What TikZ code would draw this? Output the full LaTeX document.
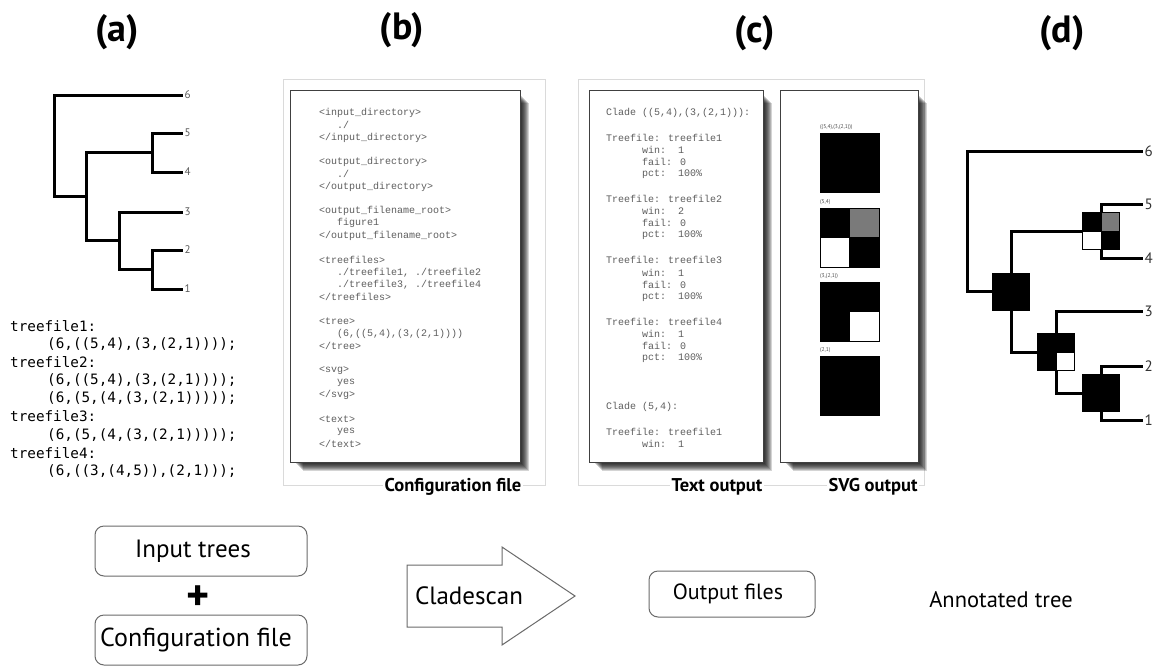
\documentclass[tikz,border=0pt]{standalone}
\usepackage{fontspec}
\setmainfont{PT Sans}
\newfontfamily\cfgfont{Liberation Mono}
\newfontfamily\tffont{DejaVu Sans Mono}
\definecolor{monogray}{HTML}{5E5E5E}
\definecolor{boxgray}{HTML}{6A6A6A}
\definecolor{framegray}{HTML}{DADADA}
\definecolor{quadgray}{HTML}{7A7A7A}
\newcommand\papershadow[4]{\foreach \k in {1,...,9}{\fill[black,opacity=0.17] ({#1+4+\k},{#2+4+\k}) rectangle ({#3+\k},{#4+\k});}}
\newcommand\quadsq[6]{\begin{scope}[shift={#1}]
 \fill[#3] (-#2,-#2) rectangle (0,0);
 \fill[#4] (0,-#2) rectangle (#2,0);
 \fill[#5] (-#2,0) rectangle (0,#2);
 \fill[#6] (0,0) rectangle (#2,#2);
 \draw[line width=0.9pt] (-#2,-#2) rectangle (#2,#2) (-#2,0) -- (#2,0) (0,-#2) -- (0,#2);
\end{scope}}
\newcommand\cfgl[3]{\node[mono] (cfg#1) at (319,{113+12.26*#1}) {\hspace*{#2}#3};}
\newcommand\txl[3]{\node[mono] (txt#1) at (606,{113+12.26*#1}) {\hspace*{#2}#3};}
\newcommand\tfl[3]{\node[tfile] (tf#1) at (#2,{326+18.1*#1}) {#3};}
\begin{document}
\begin{tikzpicture}[x=1pt,y=-1pt,
  title/.style={font=\fontsize{38}{40}\selectfont\bfseries, inner sep=0},
  lbl/.style={font=\fontsize{18.5}{20}\selectfont\bfseries, fill=white, inner sep=2pt},
  mono/.style={font=\cfgfont\fontsize{10}{12}\selectfont, text=monogray, anchor=west, inner sep=0},
  tfile/.style={font=\tffont\fontsize{14.3}{16}\selectfont, text=black, anchor=west, inner sep=0},
  branch/.style={line width=3pt, black},
  leafa/.style={font=\fontsize{11}{12}\selectfont, text=black!65, anchor=west, inner sep=1.5pt},
  leafd/.style={font=\fontsize{15}{16}\selectfont, text=black!80, anchor=west, inner sep=1.5pt},
  frame/.style={draw=framegray, line width=0.8pt},
  paper/.style={draw=black!75, fill=white, line width=0.9pt},
  rbox/.style={draw=boxgray, line width=1pt, rounded corners=9pt, minimum width=212pt, minimum height=50pt},
  svgsq/.style={draw=black, fill=black, line width=0.9pt, minimum size=59pt, inner sep=0},
  svglbl/.style={font=\fontsize{5.5}{6}\selectfont, text=black!70, anchor=west, inner sep=0},
]
\useasboundingbox (0,0) rectangle (1173,665);
\fill[white] (0,0) rectangle (1173,665);

% titles
\node[title] (ta) at (117,32) {(a)};
\node[title] (tb) at (402,30) {(b)};
\node[title] (tc) at (755,33) {(c)};
\node[title] (td) at (1062,33) {(d)};

% ---------- tree (a)
\coordinate (a6) at (183,95);
\coordinate (a5) at (183,133);
\coordinate (a4) at (183,172);
\coordinate (a3) at (183,212);
\coordinate (a2) at (183,250);
\coordinate (a1) at (183,289);
\coordinate (a54) at (152,152.5);
\coordinate (a21) at (152,269.5);
\coordinate (a321) at (119,240.75);
\coordinate (a5421) at (86,196.6);
\coordinate (ar) at (54,145.8);
\draw[branch] (ar) |- (a6);
\draw[branch] (ar) |- (a5421);
\draw[branch] (a5421) |- (a54);
\draw[branch] (a5421) |- (a321);
\draw[branch] (a54) |- (a5);
\draw[branch] (a54) |- (a4);
\draw[branch] (a321) |- (a3);
\draw[branch] (a321) |- (a21);
\draw[branch] (a21) |- (a2);
\draw[branch] (a21) |- (a1);
\foreach \n in {1,...,6}{\node[leafa] (la\n) at (a\n) {\n};}

% treefiles
\tfl{0}{10}{treefile1:}
\tfl{1}{47}{(6,((5,4),(3,(2,1))));}
\tfl{2}{10}{treefile2:}
\tfl{3}{47}{(6,((5,4),(3,(2,1))));}
\tfl{4}{47}{(6,(5,(4,(3,(2,1)))));}
\tfl{5}{10}{treefile3:}
\tfl{6}{47}{(6,(5,(4,(3,(2,1)))));}
\tfl{7}{10}{treefile4:}
\tfl{8}{47}{(6,((3,(4,5)),(2,1)));}

% ---------- panel (b)
\node[frame, minimum width=262pt, minimum height=406pt, inner sep=0] (panelb) at (414,282) {};
\papershadow{290}{90}{520}{462}
\node[paper, minimum width=230pt, minimum height=372pt, inner sep=0] (cfgpaper) at (405,276) {};
\cfgl{0}{0pt}{<input\_directory>}
\cfgl{1}{18pt}{./}
\cfgl{2}{0pt}{</input\_directory>}
\cfgl{4}{0pt}{<output\_directory>}
\cfgl{5}{18pt}{./}
\cfgl{6}{0pt}{</output\_directory>}
\cfgl{8}{0pt}{<output\_filename\_root>}
\cfgl{9}{18pt}{figure1}
\cfgl{10}{0pt}{</output\_filename\_root>}
\cfgl{12}{0pt}{<treefiles>}
\cfgl{13}{18pt}{./treefile1, ./treefile2}
\cfgl{14}{18pt}{./treefile3, ./treefile4}
\cfgl{15}{0pt}{</treefiles>}
\cfgl{17}{0pt}{<tree>}
\cfgl{18}{18pt}{(6,((5,4),(3,(2,1))))}
\cfgl{19}{0pt}{</tree>}
\cfgl{21}{0pt}{<svg>}
\cfgl{22}{18pt}{yes}
\cfgl{23}{0pt}{</svg>}
\cfgl{25}{0pt}{<text>}
\cfgl{26}{18pt}{yes}
\cfgl{27}{0pt}{</text>}
\node[lbl] (lblcfg) at (453,487) {Configuration file};

% ---------- panel (c)
\node[frame, minimum width=346pt, minimum height=406pt, inner sep=0] (panelc) at (751,282) {};
\papershadow{589}{90}{763}{462}
\node[paper, minimum width=174pt, minimum height=372pt, inner sep=0] (txtpaper) at (676,276) {};
\papershadow{780}{90}{918}{462}
\node[paper, minimum width=138pt, minimum height=372pt, inner sep=0] (svgpaper) at (849,276) {};
\txl{0}{0pt}{Clade ((5,4),(3,(2,1))):}
\txl{2}{0pt}{Treefile: treefile1}
\txl{3}{36pt}{win:~~1}
\txl{4}{36pt}{fail: 0}
\txl{5}{36pt}{pct:~~100\%}
\txl{7}{0pt}{Treefile: treefile2}
\txl{8}{36pt}{win:~~2}
\txl{9}{36pt}{fail: 0}
\txl{10}{36pt}{pct:~~100\%}
\txl{12}{0pt}{Treefile: treefile3}
\txl{13}{36pt}{win:~~1}
\txl{14}{36pt}{fail: 0}
\txl{15}{36pt}{pct:~~100\%}
\txl{17}{0pt}{Treefile: treefile4}
\txl{18}{36pt}{win:~~1}
\txl{19}{36pt}{fail: 0}
\txl{20}{36pt}{pct:~~100\%}
\txl{24}{0pt}{Clade (5,4):}
\txl{26}{0pt}{Treefile: treefile1}
\txl{27}{36pt}{win:~~1}
% svg squares
\node[svglbl] (sl1) at (820,127) {((5,4),(3,(2,1)))};
\node[svgsq] (sq1) at (849.5,163) {};
\node[svglbl] (sl2) at (820,202) {(5,4)};
\coordinate (sq2) at (849.5,237.5);
\quadsq{(sq2)}{29.5}{black}{quadgray}{white}{black}
\node[svglbl] (sl3) at (820,276) {(3,(2,1))};
\coordinate (sq3) at (849.5,311.5);
\quadsq{(sq3)}{29.5}{black}{black}{black}{white}
\node[svglbl] (sl4) at (820,350) {(2,1)};
\node[svgsq] (sq4) at (849.5,386) {};
\node[lbl] (lbltxt) at (717,487) {Text output};
\node[lbl] (lblsvg) at (873,487) {SVG output};

% ---------- tree (d)
\coordinate (d6) at (1143,151);
\coordinate (d5) at (1143,204);
\coordinate (d4) at (1143,258);
\coordinate (d3) at (1143,311);
\coordinate (d2) at (1143,366);
\coordinate (d1) at (1143,420);
\coordinate (d54) at (1101,231);
\coordinate (d21) at (1101,393);
\coordinate (d321) at (1056,352);
\coordinate (d5421) at (1011,291.5);
\coordinate (dr) at (967,221);
\draw[branch] (dr) |- (d6);
\draw[branch] (dr) |- (d5421);
\draw[branch] (d5421) |- (d54);
\draw[branch] (d5421) |- (d321);
\draw[branch] (d54) |- (d5);
\draw[branch] (d54) |- (d4);
\draw[branch] (d321) |- (d3);
\draw[branch] (d321) |- (d21);
\draw[branch] (d21) |- (d2);
\draw[branch] (d21) |- (d1);
\foreach \n in {1,...,6}{\node[leafd] (ld\n) at (d\n) {\n};}
\quadsq{(d5421)}{18.5}{black}{black}{black}{black}
\quadsq{(d54)}{18.5}{black}{quadgray}{white}{black}
\quadsq{(d321)}{18.5}{black}{black}{black}{white}
\quadsq{(d21)}{18.5}{black}{black}{black}{black}

% ---------- bottom row
\node[rbox, font=\fontsize{25}{28}\selectfont] (inp) at (201,551) {Input trees\hspace*{16pt}};
\node[font=\fontsize{44}{44}\selectfont\bfseries, inner sep=0] (plus) at (198,598) {+};
\node[rbox, font=\fontsize{26}{28}\selectfont] (conf) at (201,640) {Configuration file\hspace*{10pt}};
\draw[draw=boxgray, line width=1pt] (407,565) -- (502,565) -- (502,547) -- (575,596) -- (502,645) -- (502,627) -- (407,627) -- cycle;
\node[font=\fontsize{25}{28}\selectfont, inner sep=0] (clad) at (469,596) {Cladescan};
\node[rbox, minimum width=166pt, minimum height=46pt, font=\fontsize{22}{24}\selectfont] (outf) at (732,594) {Output files\hspace*{8pt}};
\node[font=\fontsize{22.5}{24}\selectfont, inner sep=0] (annot) at (1001,600) {Annotated tree};
\end{tikzpicture}
\end{document}
